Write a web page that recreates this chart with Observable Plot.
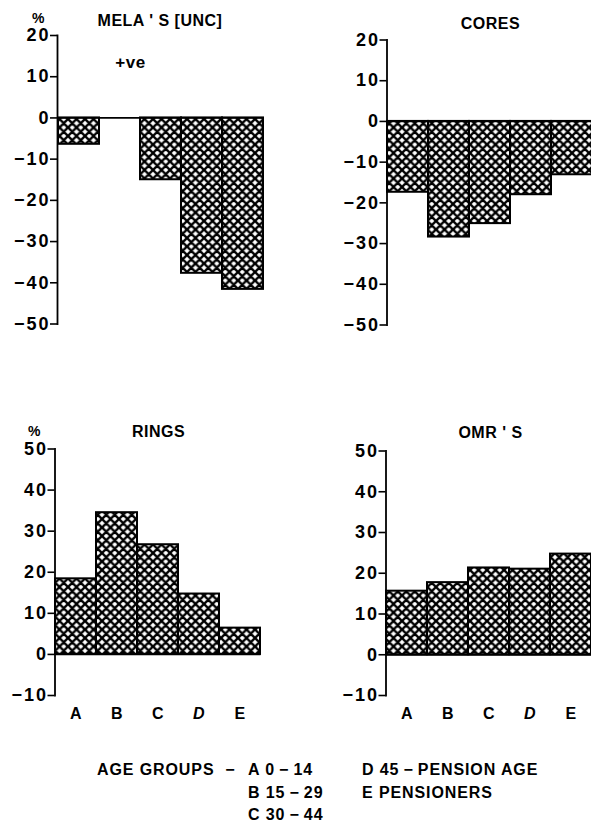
<!DOCTYPE html>
<html>
<head>
<meta charset="utf-8">
<script src="https://cdn.jsdelivr.net/npm/d3@7"></script>
<script src="https://cdn.jsdelivr.net/npm/@observablehq/plot@0.6"></script>
<style>
  html, body { margin: 0; padding: 0; background: #fff; overflow: hidden; width: 591px; height: 822px; }
  #chart { position: relative; width: 591px; height: 822px; overflow: hidden;
           font-family: "Liberation Sans", Arial, sans-serif; font-weight: bold; color: #000; }
  #chart svg { position: absolute; overflow: visible; }
  #chart g[aria-label="y-axis tick label"] text { letter-spacing: 2px; }
  .leg { position: absolute; font-size: 16px; line-height: 18px; white-space: pre; letter-spacing: 0.9px; }
</style>
</head>
<body>
<div id="chart"></div>
<script>
// Age groups shown on the x axis
const groups = ["A", "B", "C", "D", "E"];

// Percentage change per age group for each panel
const melas = [-6.4, 0, -15.0, -37.7, -41.6];
const cores = [-17.4, -28.4, -25.1, -18.0, -13.1];
const rings = [18.4, 34.5, 26.7, 14.7, 6.4];
const omrs  = [15.6, 17.7, 21.3, 21.0, 24.7];

// Y axis ticks
const ticksTop = [20, 10, 0, -10, -20, -30, -40, -50];
const ticksBottom = [50, 40, 30, 20, 10, 0, -10];

// Age group key
const keyTitle = "AGE GROUPS  \u2212";
const keyCol1 = ["A 0\u2009\u2212\u200914", "B 15\u2009\u2212\u200929", "C 30\u2009\u2212\u200944"];
const keyCol2 = ["D 45\u2009\u2212\u2009PENSION AGE", "E PENSIONERS"];

const chart = document.getElementById("chart");

// Cross-hatch fill shared by all bars
function hatchDefs() {
  const s = 8.5;
  const defs = d3.create("svg:defs");
  const p = defs.append("pattern")
    .attr("id", "xhatch")
    .attr("patternUnits", "userSpaceOnUse")
    .attr("width", s).attr("height", s);
  p.append("rect").attr("width", s).attr("height", s).attr("fill", "#fff");
  p.append("path")
    .attr("d", `M-1,-1L${s+1},${s+1}M-1,${s-1}L1,${s+1}M${s-1},-1L${s+1},1` +
               `M${s+1},-1L-1,${s+1}M-1,1L1,-1M${s-1},${s+1}L${s+1},${s-1}`)
    .attr("stroke", "#000").attr("stroke-width", 2.4).attr("fill", "none");
  return defs.node();
}

const fmt = d => d < 0 ? "\u2212" + Math.abs(d) : String(d);

function panel(cfg) {
  const data = groups.map((g, i) => ({g, v: cfg.values[i]}));
  const {left, top, width, height, ml, mr, mt, mb} = cfg;
  // place a label at a position given relative to the panel's svg
  const label = (text, px, py, opts = {}) => Plot.text([text], {
    text: d => d, frameAnchor: "top-left",
    dx: px - ml, dy: py - mt, textAnchor: "middle", lineAnchor: "middle",
    fill: "#000", ...opts
  });
  const marks = [
    hatchDefs,
    Plot.barY(data, {x: "g", y: "v", fill: "url(#xhatch)", stroke: "#000", strokeWidth: 2}),
    Plot.ruleY([0], {stroke: "#000", strokeWidth: 1.8}),
    Plot.frame({anchor: "left", stroke: "#000", strokeWidth: 1.8}),
    Plot.axisY({ticks: cfg.ticks, tickFormat: fmt, tickSize: 7, tickPadding: 0,
                strokeWidth: 1.6, label: null, fontSize: 18}),
    label(cfg.title, cfg.titleX, cfg.titleY, {fontSize: 16})
  ];
  if (cfg.percent) marks.push(label("%", cfg.percent[0], cfg.percent[1], {fontSize: 14}));
  if (cfg.note) marks.push(label(cfg.note[0], cfg.note[1], cfg.note[2], {fontSize: 17}));
  if (cfg.xLabels) {
    marks.push(Plot.text(groups.filter(g => g !== "D"), {x: d => d, text: d => d,
      frameAnchor: "bottom", dy: 18, lineAnchor: "middle", fontSize: 16, fill: "#000"}));
    marks.push(Plot.text(["D"], {x: d => d, text: d => d,
      frameAnchor: "bottom", dy: 18, lineAnchor: "middle", fontSize: 16, fill: "#000", fontStyle: "italic"}));
  }
  const svg = Plot.plot({
    width, height,
    marginLeft: ml, marginRight: mr, marginTop: mt, marginBottom: mb,
    style: {fontFamily: '"Liberation Sans", Arial, sans-serif', fontSize: "16px",
            fontWeight: "bold", color: "#000", background: "transparent",
            overflow: "visible", letterSpacing: "0.5px"},
    x: {type: "band", domain: groups, padding: 0, axis: null},
    y: {domain: [cfg.ticks[cfg.ticks.length - 1], cfg.ticks[0]], label: null},
    marks
  });
  svg.style.left = left + "px";
  svg.style.top = top + "px";
  chart.appendChild(svg);
}

panel({values: melas, ticks: ticksTop, title: "MELA ' S [UNC]",
  left: 0, top: 0, width: 300, height: 345, ml: 57, mr: 37, mt: 35, mb: 21.5,
  titleX: 159.5, titleY: 20, percent: [38, 18], note: ["+ve", 130, 62]});

panel({values: cores, ticks: ticksTop, title: "CORES",
  left: 300, top: 0, width: 300, height: 345, ml: 86.5, mr: 7.5, mt: 39.5, mb: 20.5,
  titleX: 190, titleY: 23});

panel({values: rings, ticks: ticksBottom, title: "RINGS",
  left: 0, top: 400, width: 300, height: 340, ml: 54.5, mr: 39.5, mt: 48.5, mb: 45,
  titleX: 158, titleY: 31, percent: [34, 31], xLabels: true});

panel({values: omrs, ticks: ticksBottom, title: "OMR ' S",
  left: 300, top: 400, width: 300, height: 340, ml: 85.5, mr: 8.5, mt: 50.5, mb: 45,
  titleX: 190, titleY: 32, xLabels: true});

// Key for the age groups
function keyLine(text, x, yc) {
  const d = document.createElement("div");
  d.className = "leg";
  d.textContent = text;
  d.style.left = x + "px";
  d.style.top = (yc - 9.3) + "px";
  chart.appendChild(d);
}
const rows = [770, 793, 815];
keyLine(keyTitle, 97, rows[0]);
keyCol1.forEach((t, i) => keyLine(t, 248, rows[i]));
keyCol2.forEach((t, i) => keyLine(t, 362, rows[i]));
</script>
</body>
</html>
